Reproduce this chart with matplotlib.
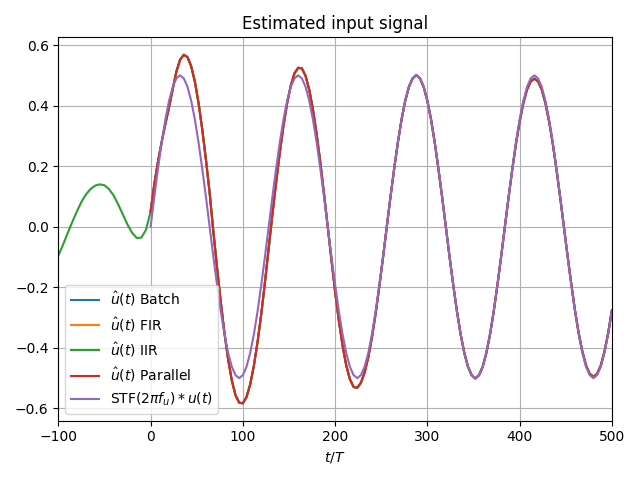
import numpy as np
import matplotlib
matplotlib.use("Agg")
import matplotlib.pyplot as plt

# time axis (t/T), sampled every 4 steps
t_est = np.arange(0, 501, 4)
# IIR estimate before t = 0 (sampled every 5 steps)
t_pre = np.arange(-100, 1, 5)

# estimated input (Batch / FIR / Parallel overlap almost exactly)
u_est = [
    0.050, 0.140, 0.215, 0.280, 0.340, 0.395, 0.455, 0.513, 0.552, 0.568,
    0.560, 0.530, 0.479, 0.408, 0.321, 0.221, 0.112, -0.015, -0.134, -0.247,
    -0.349, -0.437, -0.507, -0.556, -0.581, -0.583, -0.562, -0.520, -0.458, -0.379,
    -0.287, -0.182, -0.071, 0.040, 0.145, 0.244, 0.333, 0.408, 0.467, 0.507,
    0.525, 0.523, 0.498, 0.452, 0.387, 0.305, 0.211, 0.108, 0.000, -0.109,
    -0.214, -0.309, -0.391, -0.457, -0.503, -0.529, -0.532, -0.515, -0.481, -0.430,
    -0.364, -0.285, -0.195, -0.100, 0.000, 0.098, 0.191, 0.278, 0.354, 0.416,
    0.462, 0.490, 0.501, 0.490, 0.462, 0.416, 0.354, 0.278, 0.191, 0.098,
    0.000, -0.098, -0.191, -0.278, -0.354, -0.416, -0.462, -0.490, -0.501, -0.490,
    -0.462, -0.416, -0.354, -0.278, -0.191, -0.098, 0.000, 0.096, 0.188, 0.273,
    0.347, 0.408, 0.453, 0.480, 0.489, 0.480, 0.453, 0.408, 0.347, 0.273,
    0.188, 0.096, 0.000, -0.097, -0.189, -0.276, -0.351, -0.412, -0.458, -0.486,
    -0.495, -0.486, -0.458, -0.412, -0.351, -0.276,
]

# IIR estimate for t < 0
u_iir_pre = [
    -0.095, -0.060, -0.022, 0.015, 0.050, 0.082, 0.107, 0.125, 0.136, 0.140,
    0.137, 0.124, 0.103, 0.073, 0.040, 0.007, -0.020, -0.037, -0.036, -0.010,
    0.050,
]

# reference STF(2*pi*f_u) * u(t)
u_ref = [
    0.000, 0.098, 0.191, 0.278, 0.354, 0.416, 0.462, 0.490, 0.500, 0.490,
    0.462, 0.416, 0.354, 0.278, 0.191, 0.098, 0.000, -0.098, -0.191, -0.278,
    -0.354, -0.416, -0.462, -0.490, -0.500, -0.490, -0.462, -0.416, -0.354, -0.278,
    -0.191, -0.098, 0.000, 0.098, 0.191, 0.278, 0.354, 0.416, 0.462, 0.490,
    0.500, 0.490, 0.462, 0.416, 0.354, 0.278, 0.191, 0.098, 0.000, -0.098,
    -0.191, -0.278, -0.354, -0.416, -0.462, -0.490, -0.500, -0.490, -0.462, -0.416,
    -0.354, -0.278, -0.191, -0.098, 0.000, 0.098, 0.191, 0.278, 0.354, 0.416,
    0.462, 0.490, 0.500, 0.490, 0.462, 0.416, 0.354, 0.278, 0.191, 0.098,
    0.000, -0.098, -0.191, -0.278, -0.354, -0.416, -0.462, -0.490, -0.500, -0.490,
    -0.462, -0.416, -0.354, -0.278, -0.191, -0.098, 0.000, 0.098, 0.191, 0.278,
    0.354, 0.416, 0.462, 0.490, 0.500, 0.490, 0.462, 0.416, 0.354, 0.278,
    0.191, 0.098, 0.000, -0.098, -0.191, -0.278, -0.354, -0.416, -0.462, -0.490,
    -0.500, -0.490, -0.462, -0.416, -0.354, -0.278,
]

# IIR covers the whole range: pre-part then the shared estimate
t_iir = np.concatenate([t_pre, t_est[1:]])
u_iir = np.concatenate([u_iir_pre, u_est[1:]])

fig = plt.figure(figsize=(6.4, 4.8), dpi=100)
plt.plot(t_est, u_est, label=r"$\hat{u}(t)$ Batch")
plt.plot(t_est, u_est, label=r"$\hat{u}(t)$ FIR")
plt.plot(t_iir, u_iir, label=r"$\hat{u}(t)$ IIR")
plt.plot(t_est, u_est, label=r"$\hat{u}(t)$ Parallel")
plt.plot(t_est, u_ref, label=r"STF$(2\pi f_u) * u(t)$")
plt.title("Estimated input signal")
plt.xlabel("$t/T$")
plt.xlim(-100, 500)
plt.grid(True)
plt.legend(loc="lower left")
plt.tight_layout()
plt.savefig("out.png")
